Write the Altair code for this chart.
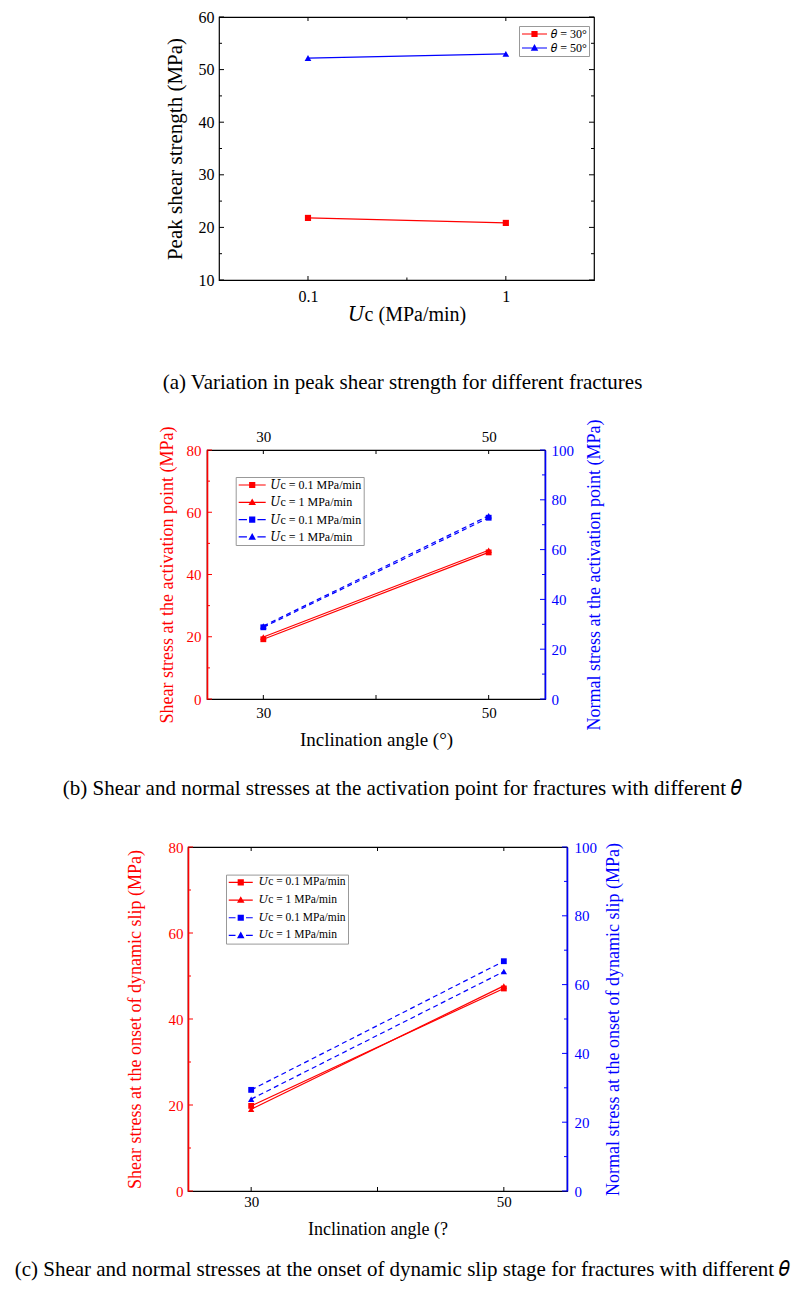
import json
import altair as alt
import pandas as pd

RED = "#ff0000"
BLUE = "#0000ff"
FONT = "'Liberation Serif', 'DejaVu Serif', serif"

# ---------------- data ----------------
uc_values = [0.1, 1]
uc_minor = [0.3162]
peak_theta30 = [21.8, 20.85]
peak_theta50 = [52.2, 53.0]
peak_keys = ["t30", "t50"]
peak_labels = ["𝜃 = 30°", "𝜃 = 50°"]
peak_y_major = [10, 20, 30, 40, 50, 60]
peak_y_minor = [15, 25, 35, 45, 55]

angles = [30, 50]
angle_minor = [40]
act_shear_u01 = [19.2, 47.1]
act_shear_u1 = [19.9, 47.8]
act_normal_u01 = [28.8, 72.8]
act_normal_u1 = [29.3, 73.6]
dyn_shear_u01 = [19.8, 47.1]
dyn_shear_u1 = [19.0, 47.7]
dyn_normal_u01 = [29.4, 66.8]
dyn_normal_u1 = [26.7, 63.8]
uc_keys = ["k0", "k1", "k2", "k3"]
uc_labels = ["𝑈c = 0.1 MPa/min", "𝑈c = 1 MPa/min", "𝑈c = 0.1 MPa/min", "𝑈c = 1 MPa/min"]
shear_major = [0, 20, 40, 60, 80]
shear_minor = [10, 30, 50, 70]
normal_major = [0, 20, 40, 60, 80, 100]
normal_minor = [10, 30, 50, 70, 90]

caption_a = "(a) Variation in peak shear strength for different fractures"
caption_b = "(b) Shear and normal stresses at the activation point for fractures with different 𝜃"
caption_c = "(c) Shear and normal stresses at the onset of dynamic slip stage for fractures with different 𝜃"


# ---------------- helpers ----------------
def legend_path(span_px, marker, dashed, unit=5.0):
    L = -1.0
    R = span_px / unit - 1.0
    C = (L + R) / 2.0
    t = 0.12

    def rect(x1, x2, y1, y2):
        return f"M{x1:.3f},{y1:.3f}L{x2:.3f},{y1:.3f}L{x2:.3f},{y2:.3f}L{x1:.3f},{y2:.3f}Z"

    parts = []
    if dashed:
        parts.append(rect(L, C - 1.05, -t, t))
        parts.append(rect(C + 1.05, R, -t, t))
    else:
        parts.append(rect(L, R, -t, t))
    if marker == "square":
        m = 0.62
        parts.append(rect(C - m, C + m, -m, m))
    else:
        parts.append(f"M{C:.3f},-0.78L{C + 0.75:.3f},0.55L{C - 0.75:.3f},0.55Z")
    return "".join(parts)


def label_expr(keys, labels):
    return f"{json.dumps(labels, ensure_ascii=False)}[indexof({json.dumps(keys)}, datum.label)]"


def tick_rules(values, scale, side, length, color, W, H, axis=alt.Undefined):
    df = pd.DataFrame({"v": values})
    base = alt.Chart(df).mark_rule(color=color, strokeWidth=1)
    if side == "left":
        return base.encode(y=alt.Y("v:Q", scale=scale, axis=axis), x=alt.value(0), x2=alt.value(length))
    if side == "right":
        return base.encode(y=alt.Y("v:Q", scale=scale, axis=axis), x=alt.value(W), x2=alt.value(W - length))
    if side == "bottom":
        return base.encode(x=alt.X("v:Q", scale=scale, axis=axis), y=alt.value(H), y2=alt.value(H - length))
    return base.encode(x=alt.X("v:Q", scale=scale, axis=axis), y=alt.value(0), y2=alt.value(length))


def spacer(w, h):
    return (
        alt.Chart(pd.DataFrame({"z": [0]}))
        .mark_point(opacity=0, size=1)
        .encode(x=alt.value(w / 2), y=alt.value(h / 2))
        .properties(width=w, height=h, view=alt.ViewBackground(stroke="transparent"))
    )


def caption(text, dx, offset):
    return alt.TitleParams(
        text=text, orient="bottom", anchor="middle", frame="group", dx=dx, offset=offset,
        fontSize=21, font=FONT, fontWeight="normal", color="#000",
    )


U = alt.Undefined

# ---------------- panel (a) ----------------
WA, HA = 375, 263
xa = alt.Scale(type="log", domain=[0.0355, 2.79], nice=False)
ya = alt.Scale(domain=[10, 60], nice=False)

df_a30 = pd.DataFrame({"uc": uc_values, "peak": peak_theta30})
df_a50 = pd.DataFrame({"uc": uc_values, "peak": peak_theta50})

xa_axis = alt.Axis(values=uc_values, format="~g", ticks=False, domain=False,
                   labelFontSize=16, labelPadding=8, title="𝑈c (MPa/min)", titleFontSize=20,
                   titlePadding=0)
ya_axis = alt.Axis(values=peak_y_major, ticks=False, domain=False,
                   labelFontSize=16, labelPadding=5, title="Peak shear strength (MPa)",
                   titleFontSize=21, titlePadding=13)

a_line30 = alt.Chart(df_a30).mark_line(color=RED, strokeWidth=1.2).encode(
    x=alt.X("uc:Q", scale=xa, axis=xa_axis), y=alt.Y("peak:Q", scale=ya, axis=ya_axis))
a_line50 = alt.Chart(df_a50).mark_line(color=BLUE, strokeWidth=1.2).encode(
    x=alt.X("uc:Q", scale=xa), y=alt.Y("peak:Q", scale=ya))
a_pt30 = alt.Chart(df_a30).mark_point(shape="square", filled=True, size=38, color=RED, opacity=1).encode(
    x=alt.X("uc:Q", scale=xa), y=alt.Y("peak:Q", scale=ya))
a_pt50 = alt.Chart(df_a50).mark_point(shape="triangle-up", filled=True, size=45, color=BLUE, opacity=1).encode(
    x=alt.X("uc:Q", scale=xa), y=alt.Y("peak:Q", scale=ya))

df_a_leg = pd.DataFrame({"uc": [uc_values[0]] * 2, "peak": [peak_theta30[0], peak_theta50[0]], "key": peak_keys})
a_leg_obj = alt.Legend(
    orient="none", legendX=300, legendY=9, title=None, padding=2, symbolSize=100,
    symbolStrokeWidth=0, symbolOpacity=1, labelFontSize=12, labelFont=FONT, labelOffset=18.3,
    rowPadding=2, strokeColor="#999999", fillColor="#ffffff",
    labelExpr=label_expr(peak_keys, peak_labels),
)
a_leg = alt.Chart(df_a_leg).transform_filter("false").mark_point(filled=True, opacity=1).encode(
    x=alt.X("uc:Q", scale=xa), y=alt.Y("peak:Q", scale=ya),
    color=alt.Color("key:N", scale=alt.Scale(domain=peak_keys, range=[RED, BLUE]), legend=a_leg_obj),
    shape=alt.Shape("key:N", scale=alt.Scale(domain=peak_keys, range=[
        legend_path(25, "square", False), legend_path(25, "triangle", False)]), legend=a_leg_obj),
)

a_ticks = [
    tick_rules(peak_y_major, ya, "left", 5, "#000", WA, HA),
    tick_rules(peak_y_minor, ya, "left", 3, "#000", WA, HA),
    tick_rules(peak_y_major, ya, "right", 5, "#000", WA, HA),
    tick_rules(peak_y_minor, ya, "right", 3, "#000", WA, HA),
    tick_rules(uc_values, xa, "bottom", 4, "#000", WA, HA),
    tick_rules(uc_minor, xa, "bottom", 2.5, "#000", WA, HA),
    tick_rules(uc_values, xa, "top", 4, "#000", WA, HA),
    tick_rules(uc_minor, xa, "top", 2.5, "#000", WA, HA),
]

panel_a = alt.layer(a_line30, a_line50, a_pt30, a_pt50, *a_ticks, a_leg).properties(
    width=WA, height=HA, title=caption(caption_a, -4, 48))


# ---------------- panels (b), (c) ----------------
def stress_panel(W, H, shear_u01, shear_u1, normal_u01, normal_u1, left_title, right_title,
                 x_title, top_labels, p, cap):
    xs = alt.Scale(domain=[25, 55], nice=False)
    ysl = alt.Scale(domain=[0, 80], nice=False)
    ysr = alt.Scale(domain=[0, 100], nice=False)

    bottom_axis = alt.Axis(values=angles, format="d", ticks=False, domain=False,
                           labelFontSize=15, labelPadding=p["xlp"], title=x_title,
                           titleFontSize=p["xts"], titlePadding=p["xtp"])
    left_axis = alt.Axis(values=shear_major, ticks=False, domain=True, domainColor=RED,
                         domainWidth=1.6, labelColor=RED, labelFontSize=15, labelPadding=p["llp"],
                         title=left_title, titleColor=RED, titleFontSize=18, titlePadding=p["ltp"])
    right_axis = alt.Axis(orient="right", values=normal_major, ticks=False, domain=True,
                          domainColor=BLUE, domainWidth=1.6, labelColor=BLUE, labelFontSize=15,
                          labelPadding=p["rlp"], title=right_title, titleColor=BLUE, titleFontSize=18,
                          titlePadding=p["rtp"], titleAngle=270, titleBaseline="top")
    if top_labels:
        top_axis = alt.Axis(orient="top", values=angles, format="d", ticks=False,
                            domain=False, labelFontSize=15, labelPadding=6, title=None)
        rx = U
    else:
        top_axis = None
        rx = None

    d_s01 = pd.DataFrame({"x": angles, "y": shear_u01})
    d_s1 = pd.DataFrame({"x": angles, "y": shear_u1})
    d_n01 = pd.DataFrame({"x": angles, "y": normal_u01})
    d_n1 = pd.DataFrame({"x": angles, "y": normal_u1})

    def enc(ch, xaxis, yaxis, ys):
        return ch.encode(x=alt.X("x:Q", scale=xs, axis=xaxis), y=alt.Y("y:Q", scale=ys, axis=yaxis))

    red_l1 = enc(alt.Chart(d_s01).mark_line(color=RED, strokeWidth=1.2), bottom_axis, left_axis, ysl)
    red_l2 = enc(alt.Chart(d_s1).mark_line(color=RED, strokeWidth=1.2), U, U, ysl)
    red_p1 = enc(alt.Chart(d_s01).mark_point(shape="square", filled=True, size=34, color=RED, opacity=1), U, U, ysl)
    red_p2 = enc(alt.Chart(d_s1).mark_point(shape="triangle-up", filled=True, size=40, color=RED, opacity=1), U, U, ysl)

    leg_df = pd.DataFrame({"x": [angles[0]] * 4,
                           "y": [shear_u01[0], shear_u1[0], shear_u01[0], shear_u1[0]],
                           "key": uc_keys})
    leg_obj = alt.Legend(
        orient="none", legendX=p["lx"], legendY=p["ly"], title=None, padding=2, symbolSize=100,
        symbolStrokeWidth=0, symbolOpacity=1, labelFontSize=p["lfs"], labelFont=FONT,
        labelOffset=p["lo"], rowPadding=p["rp"], strokeColor="#999999", fillColor="#ffffff",
        labelExpr=label_expr(uc_keys, uc_labels),
    )
    span = p["span"]
    leg = alt.Chart(leg_df).transform_filter("false").mark_point(filled=True, opacity=1).encode(
        x=alt.X("x:Q", scale=xs), y=alt.Y("y:Q", scale=ysl),
        color=alt.Color("key:N", scale=alt.Scale(domain=uc_keys, range=[RED, RED, BLUE, BLUE]), legend=leg_obj),
        shape=alt.Shape("key:N", scale=alt.Scale(domain=uc_keys, range=[
            legend_path(span, "square", False), legend_path(span, "triangle", False),
            legend_path(span, "square", True), legend_path(span, "triangle", True)]), legend=leg_obj),
    )

    left_group = alt.layer(
        red_l1, red_l2, red_p1, red_p2,
        tick_rules(shear_major, ysl, "left", 5, RED, W, H),
        tick_rules(shear_minor, ysl, "left", 3, RED, W, H),
        tick_rules(angles, xs, "bottom", 4, "#000", W, H),
        tick_rules(angle_minor, xs, "bottom", 4, "#000", W, H),
        leg,
    )

    blue_l1 = enc(alt.Chart(d_n01).mark_line(color=BLUE, strokeWidth=1.2, strokeDash=[5, 3.5]), top_axis, right_axis, ysr)
    blue_l2 = enc(alt.Chart(d_n1).mark_line(color=BLUE, strokeWidth=1.2, strokeDash=[5, 3.5]), rx, U, ysr)
    blue_p1 = enc(alt.Chart(d_n01).mark_point(shape="square", filled=True, size=34, color=BLUE, opacity=1), rx, U, ysr)
    blue_p2 = enc(alt.Chart(d_n1).mark_point(shape="triangle-up", filled=True, size=40, color=BLUE, opacity=1), rx, U, ysr)

    right_group = alt.layer(
        blue_l1, blue_l2, blue_p1, blue_p2,
        tick_rules(normal_major, ysr, "right", 5, BLUE, W, H),
        tick_rules(normal_minor, ysr, "right", 3, BLUE, W, H),
        tick_rules(angles, xs, "top", 4, "#000", W, H, axis=rx),
        tick_rules(angle_minor, xs, "top", 4, "#000", W, H, axis=rx),
    )

    return (
        alt.layer(left_group, right_group)
        .resolve_scale(y="independent")
        .resolve_axis(x="independent", y="independent")
        .properties(width=W, height=H, title=cap)
    )


WB, HB = 338, 249
panel_b = stress_panel(
    WB, HB, act_shear_u01, act_shear_u1, act_normal_u01, act_normal_u1,
    "Shear stress at the activation point (MPa)", "Normal stress at the activation point (MPa)",
    "Inclination angle (°)", True,
    dict(xlp=6, xts=19, xtp=10, llp=6, ltp=10, rlp=6, rtp=12,
         lx=28.7, ly=27, lfs=12, lo=20.6, rp=5.3, span=27),
    caption(caption_b, 26.5, 29),
)

WC, HC = 379, 344
panel_c = stress_panel(
    WC, HC, dyn_shear_u01, dyn_shear_u1, dyn_normal_u01, dyn_normal_u1,
    "Shear stress at the onset of dynamic slip (MPa)", "Normal stress at the onset of dynamic slip (MPa)",
    "Inclination angle (?", False,
    dict(xlp=3.5, xts=18, xtp=11, llp=5, ltp=24, rlp=7, rtp=8,
         lx=38, ly=27.6, lfs=11.5, lo=19, rp=4.7, span=24),
    caption(caption_c, 25, 20),
)

IND = dict(color="independent", shape="independent")
row_a = alt.hconcat(spacer(210, 400), panel_a, spacing=0, bounds="flush").resolve_scale(**IND)
row_b = alt.hconcat(spacer(198, 388), panel_b, spacing=0, bounds="flush").resolve_scale(**IND)
row_c = alt.hconcat(spacer(179, 1), panel_c, spacing=0, bounds="flush").resolve_scale(**IND)

chart = (
    alt.concat(row_a, row_b, row_c, columns=1, spacing=0)
    .resolve_scale(**IND)
    .properties(padding=0)
    .configure(font=FONT)
    .configure_axis(grid=False, labelFont=FONT, titleFont=FONT, titleFontWeight="normal",
                    labelColor="#000", titleColor="#000")
    .configure_legend(labelFont=FONT)
    .configure_title(font=FONT, fontWeight="normal")
    .configure_view(stroke="#000", strokeWidth=1.2)
)

chart.save("out.html", embed_options={"renderer": "svg", "actions": False})
